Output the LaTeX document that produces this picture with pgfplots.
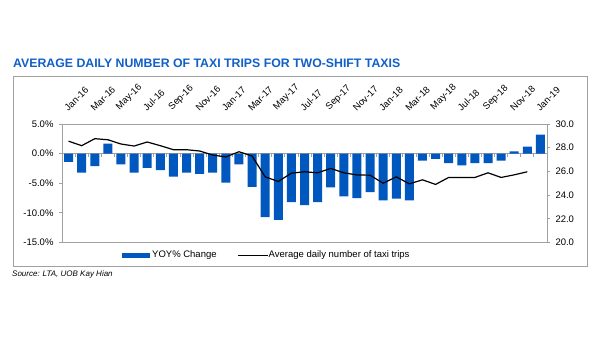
\documentclass[border=0pt]{standalone}
\usepackage{pgfplots}
\pgfplotsset{compat=1.18}
\usepackage{fontspec}
\setmainfont{Liberation Sans}
\definecolor{barblue}{RGB}{0,88,190}
\definecolor{titleblue}{RGB}{16,96,200}
\definecolor{framegray}{RGB}{160,160,160}
\pgfplotstableread{
x y
0 -1.4
1 -3.2
2 -2.1
3 1.7
4 -1.8
5 -3.2
6 -2.4
7 -2.8
8 -3.9
9 -3.2
10 -3.4
11 -3.2
12 -4.9
13 -1.8
14 -5.6
15 -10.7
16 -11.2
17 -8.2
18 -8.7
19 -8.2
20 -5.7
21 -7.2
22 -7.5
23 -6.5
24 -7.9
25 -7.6
26 -7.9
27 -1.2
28 -0.9
29 -1.6
30 -2.0
31 -1.6
32 -1.6
33 -1.2
34 0.4
35 1.2
36 3.2
}\yoy
\pgfplotstableread{
x y
0 28.55
1 28.17
2 28.76
3 28.67
4 28.31
5 28.14
6 28.48
7 28.17
8 27.83
9 27.83
10 27.72
11 27.38
12 27.22
13 27.66
14 27.3
15 25.54
16 25.15
17 25.85
18 25.97
19 25.88
20 26.25
21 25.88
22 25.7
23 25.68
24 25.0
25 25.54
26 24.95
27 25.29
28 24.9
29 25.49
30 25.49
31 25.49
32 25.88
33 25.49
34 25.71
35 25.97
}\trips
\begin{document}
\begin{tikzpicture}
\fill[white] (0pt,0pt) rectangle (608pt,361pt);
\draw[framegray, line width=0.8pt] (13pt,94.3pt) rectangle (587pt,284.3pt);
\node[anchor=base west, inner sep=0, text=titleblue, font=\fontsize{12.3}{14}\selectfont\bfseries] at (13pt,293.5pt) {AVERAGE DAILY NUMBER OF TAXI TRIPS FOR TWO-SHIFT TAXIS};
\node[anchor=base west, inner sep=0, font=\fontsize{8}{9}\selectfont\itshape] at (12pt,84pt) {Source: LTA, UOB Kay Hian};
% legend
\fill[barblue] (122pt,102.7pt) rectangle (150pt,108.3pt);
\node[anchor=west, inner sep=0, font=\fontsize{9.5}{10}\selectfont] at (152pt,105.5pt) {YOY\% Change};
\draw[black, line width=1.2pt] (238pt,105.5pt) -- (268pt,105.5pt);
\node[anchor=west, inner sep=0, font=\fontsize{9.5}{10}\selectfont] at (268.5pt,105.5pt) {Average daily number of taxi trips};
\begin{axis}[at={(62pt,118.5pt)}, anchor=south west, scale only axis,
  width=485pt, height=118.5pt,
  xmin=-0.5, xmax=36.5, ymin=-15, ymax=5,
  axis line style={framegray, line width=0.8pt},
  ytick={-15,-10,-5,0,5},
  yticklabels={-15.0\%,-10.0\%,-5.0\%,0.0\%,5.0\%},
  ytick pos=left, tick align=outside, major tick length=3pt,
  ytick style={framegray, line width=0.8pt},
  yticklabel style={font=\fontsize{9.5}{10}\selectfont, xshift=-2pt},
  xtick={0,2,...,36},
  xticklabels={Jan-16,Mar-16,May-16,Jul-16,Sep-16,Nov-16,Jan-17,Mar-17,May-17,Jul-17,Sep-17,Nov-17,Jan-18,Mar-18,May-18,Jul-18,Sep-18,Nov-18,Jan-19},
  xtick pos=right, xticklabel pos=right,
  xtick style={draw=none},
  xticklabel shift=9pt,
  xticklabel style={rotate=45, anchor=south west, inner sep=0pt, font=\fontsize{9.5}{10}\selectfont},
  axis on top=false,
]
\draw[framegray, line width=0.8pt] (axis cs:-0.5,0) -- (axis cs:36.5,0);
\pgfplotsinvokeforeach{0,...,35}{\draw[framegray, line width=0.8pt] (axis cs:#1+0.5,0) -- ++(0pt,-3pt);}
\addplot[ybar, bar width=9pt, fill=barblue, draw=none] table[x=x,y=y] {\yoy};
\end{axis}
\begin{axis}[at={(62pt,118.5pt)}, anchor=south west, scale only axis,
  width=485pt, height=118.5pt,
  xmin=-0.5, xmax=36.5, ymin=20, ymax=30,
  axis x line=none, axis y line*=right,
  axis line style={framegray, line width=0.8pt},
  ytick={20,22,...,30},
  yticklabels={20.0,22.0,24.0,26.0,28.0,30.0},
  tick align=outside, major tick length=3pt,
  ytick style={framegray, line width=0.8pt},
  yticklabel style={font=\fontsize{9.5}{10}\selectfont, xshift=2pt},
]
\addplot[black, line width=1.2pt, mark=none] table[x=x,y=y] {\trips};
\end{axis}
\end{tikzpicture}
\end{document}
